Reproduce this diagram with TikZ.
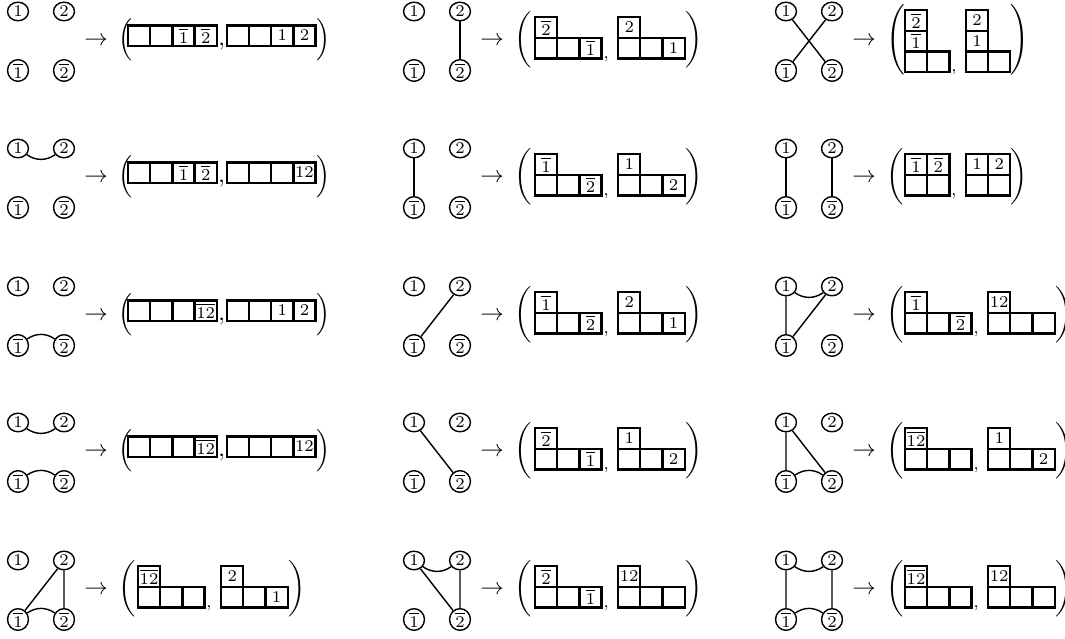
\documentclass[tikz,border=0pt]{standalone}
\usepackage{tikz}
\usetikzlibrary{shapes.geometric}
\tikzset{
  vtx/.style={draw, semithick, ellipse, minimum width=8.9pt, minimum height=7.9pt,
    inner sep=0pt, font=\scriptsize},
  cell/.style={draw, line width=1pt, minimum width=9.45pt, minimum height=8.77pt,
    inner sep=0pt, font=\scriptsize},
  paren/.style={inner sep=0pt},
  edge/.style={semithick}
}
% tableau: name, left x, bottom y, cells col/row/entry
\newcommand\cells[4]{%
  \foreach \cx/\ry/\ent in {#4}
    \node[cell] (#1-\cx-\ry) at (#2+\cx*22.2+11.1,#3+\ry*20.6+10.3) {\ent};}
% one panel: name, x, y, rows, x of left tableau, its width, cells, cells, width
\newcommand\panel[9]{%
  \node[vtx] (#1a) at (#2,#3+29.5) {$1$};
  \node[vtx] (#1b) at (#2+46,#3+29.5) {$2$};
  \node[vtx] (#1c) at (#2,#3-29.5) {$\overline{1}$};
  \node[vtx] (#1d) at (#2+46,#3-29.5) {$\overline{2}$};
  \node (#1to) at (#2+78,#3) {$\rightarrow$};
  \ifcase#4\or\def\lpar{\Big(}\def\rpar{\Big)}\or\def\lpar{\bigg(}\def\rpar{\bigg)}%
    \else\def\lpar{\Bigg(}\def\rpar{\Bigg)}\fi
  \pgfmathsetmacro\yb{#3-(#4==1 ? 5 : (#4==2 ? 17.5 : 31))}
  \pgfmathsetmacro\xa{#5+#6*22.2}
  \pgfmathsetmacro\xb{\xa+(#4==1 ? 10 : 16.5)}
  \pgfmathsetmacro\xc{\xb+#9*22.2}
  \node[paren, anchor=west] (#1l) at (#2+100,#3+1.5) {$\lpar$};
  \cells{#1t}{#5}{\yb}{#7}
  \node[anchor=base west, inner sep=0.5pt] (#1cm) at (\xa,\yb) {\ifnum#4>1 \scriptsize\fi$,$};
  \cells{#1u}{\xb}{\yb}{#8}
  \node[paren, anchor=west] (#1r) at (\xc,#3+1.5) {$\rpar$};}

\begin{document}
\begin{tikzpicture}[x=0.4255pt, y=0.4255pt]
  \useasboundingbox (0,0) rectangle (1065,639);
  % first column
  \panel{p1}{18}{598}{1}{128}{4}{0/0/{},1/0/{},2/0/$\overline{1}$,3/0/$\overline{2}$}{0/0/{},1/0/{},2/0/$1$,3/0/$2$}{4}
  \panel{p4}{18}{461}{1}{128}{4}{0/0/{},1/0/{},2/0/$\overline{1}$,3/0/$\overline{2}$}{0/0/{},1/0/{},2/0/{},3/0/$12$}{4}
  \panel{p7}{18}{323}{1}{128}{4}{0/0/{},1/0/{},2/0/{},3/0/$\overline{12}$}{0/0/{},1/0/{},2/0/$1$,3/0/$2$}{4}
  \panel{p10}{18}{187}{1}{128}{4}{0/0/{},1/0/{},2/0/{},3/0/$\overline{12}$}{0/0/{},1/0/{},2/0/{},3/0/$12$}{4}
  \panel{p13}{18}{49}{2}{138}{3}{0/0/{},1/0/{},2/0/{},0/1/$\overline{12}$}{0/0/{},1/0/{},2/0/$1$,0/1/$2$}{3}
  % second column
  \panel{p2}{414}{598}{2}{535}{3}{0/0/{},1/0/{},2/0/$\overline{1}$,0/1/$\overline{2}$}{0/0/{},1/0/{},2/0/$1$,0/1/$2$}{3}
  \panel{p5}{414}{461}{2}{535}{3}{0/0/{},1/0/{},2/0/$\overline{2}$,0/1/$\overline{1}$}{0/0/{},1/0/{},2/0/$2$,0/1/$1$}{3}
  \panel{p8}{414}{323}{2}{535}{3}{0/0/{},1/0/{},2/0/$\overline{2}$,0/1/$\overline{1}$}{0/0/{},1/0/{},2/0/$1$,0/1/$2$}{3}
  \panel{p11}{414}{187}{2}{535}{3}{0/0/{},1/0/{},2/0/$\overline{1}$,0/1/$\overline{2}$}{0/0/{},1/0/{},2/0/$2$,0/1/$1$}{3}
  \panel{p14}{414}{49}{2}{535}{3}{0/0/{},1/0/{},2/0/$\overline{1}$,0/1/$\overline{2}$}{0/0/{},1/0/{},2/0/{},0/1/$12$}{3}
  % third column
  \panel{p3}{786}{598}{3}{905}{2}{0/0/{},1/0/{},0/1/$\overline{1}$,0/2/$\overline{2}$}{0/0/{},1/0/{},0/1/$1$,0/2/$2$}{2}
  \panel{p6}{786}{461}{2}{905}{2}{0/0/{},1/0/{},0/1/$\overline{1}$,1/1/$\overline{2}$}{0/0/{},1/0/{},0/1/$1$,1/1/$2$}{2}
  \panel{p9}{786}{323}{2}{905}{3}{0/0/{},1/0/{},2/0/$\overline{2}$,0/1/$\overline{1}$}{0/0/{},1/0/{},2/0/{},0/1/$12$}{3}
  \panel{p12}{786}{187}{2}{905}{3}{0/0/{},1/0/{},2/0/{},0/1/$\overline{12}$}{0/0/{},1/0/{},2/0/$2$,0/1/$1$}{3}
  \panel{p15}{786}{49}{2}{905}{3}{0/0/{},1/0/{},2/0/{},0/1/$\overline{12}$}{0/0/{},1/0/{},2/0/{},0/1/$12$}{3}
  % pairings
  \draw[edge] (p2b) -- (p2d);
  \draw[edge] (p3a) -- (p3d) (p3b) -- (p3c);
  \draw[edge] (p4a) to[bend right=35] (p4b);
  \draw[edge] (p5a) -- (p5c);
  \draw[edge] (p6a) -- (p6c) (p6b) -- (p6d);
  \draw[edge] (p7c) to[bend left=35] (p7d);
  \draw[edge] (p8b) -- (p8c);
  \draw[edge] (p9a) to[bend right=35] (p9b) (p9a) -- (p9c) (p9b) -- (p9c);
  \draw[edge] (p10a) to[bend right=35] (p10b) (p10c) to[bend left=35] (p10d);
  \draw[edge] (p11a) -- (p11d);
  \draw[edge] (p12a) -- (p12c) (p12a) -- (p12d) (p12c) to[bend left=35] (p12d);
  \draw[edge] (p13b) -- (p13c) (p13b) -- (p13d) (p13c) to[bend left=35] (p13d);
  \draw[edge] (p14a) to[bend right=35] (p14b) (p14a) -- (p14d) (p14b) -- (p14d);
  \draw[edge] (p15a) to[bend right=35] (p15b) (p15a) -- (p15c) (p15b) -- (p15d)
    (p15c) to[bend left=35] (p15d);
\end{tikzpicture}
\end{document}
